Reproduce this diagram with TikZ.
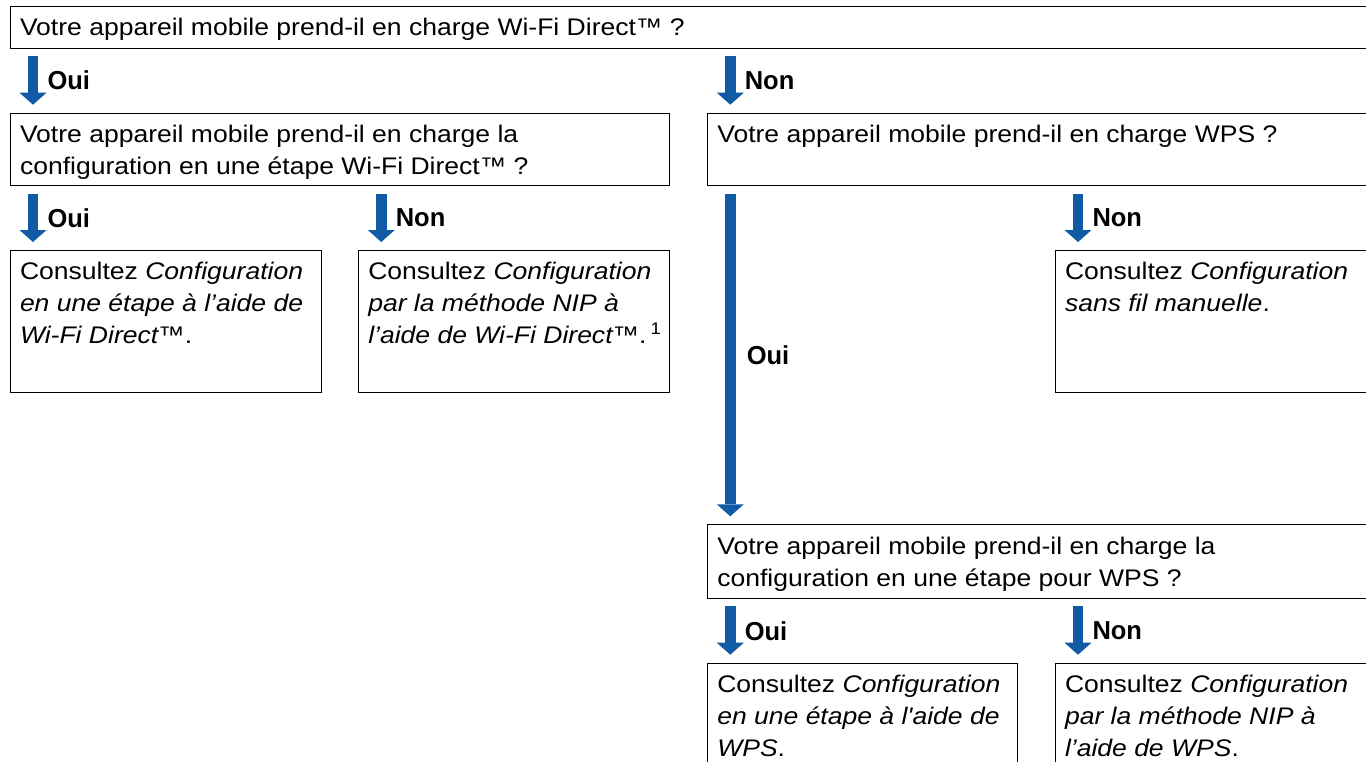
\documentclass[tikz,border=0pt]{standalone}
\usepackage{fontspec}
\setmainfont{Liberation Sans}[FakeStretch=1.105, Ligatures=TeXOff]
\newfontfamily\lblfont{Liberation Sans}[FakeStretch=0.98]
\usetikzlibrary{arrows.meta}
\definecolor{flowblue}{RGB}{17,91,165}
% box text: width, height, lines
\newcommand{\boxtxt}[3]{\parbox[t][#2][t]{#1}{\leftskip=9.5pt\rightskip=-40pt plus 1fil\parindent=0pt\rule{0pt}{29.3pt}#3}}
\tikzset{
  box/.style={draw=black, line width=1pt, anchor=north west, inner sep=0pt, font=\fontsize{24}{32}\selectfont},
  flow/.style={draw=flowblue, line width=10.5pt, -{Triangle[width=27pt,length=12pt,line width=0pt]}, shorten <=7.5pt, shorten >=8pt},
  lbl/.style={midway, anchor=west, xshift=14.5pt, inner sep=0pt, outer sep=0pt, font=\lblfont\fontsize{26}{28}\selectfont\bfseries}
}
\begin{document}
\begin{tikzpicture}[x=1pt,y=-1pt]
\useasboundingbox (0,0) rectangle (1366,761);
% questions
\node[box] (q1) at (10,6) {\boxtxt{1400pt}{41.7pt}{Votre appareil mobile prend-il en charge Wi-Fi Direct™ ?}};
\node[box] (q2) at (10,112.7) {\boxtxt{659.3pt}{72.3pt}{Votre appareil mobile prend-il en charge la\\configuration en une étape Wi-Fi Direct™ ?}};
\node[box] (q3) at (707.3,112.7) {\boxtxt{700pt}{72.3pt}{Votre appareil mobile prend-il en charge WPS ?}};
\node[box] (q4) at (707.3,524.3) {\boxtxt{700pt}{73.4pt}{Votre appareil mobile prend-il en charge la\\configuration en une étape pour WPS ?}};
% answers
\node[box] (a1) at (10,250) {\boxtxt{310.7pt}{141.7pt}{Consultez \textit{Configuration}\\\textit{en une étape à l’aide de}\\\textit{Wi-Fi Direct™}.}};
\node[box] (a2) at (358.3,250) {\boxtxt{311pt}{141.7pt}{Consultez \textit{Configuration}\\\textit{par la méthode NIP à}\\\textit{l’aide de Wi-Fi Direct™}.\,\textsuperscript{1}}};
\node[box] (a3) at (1055,250) {\boxtxt{400pt}{141.7pt}{Consultez \textit{Configuration}\\\textit{sans fil manuelle}.}};
\node[box] (a4) at (707.3,662.7) {\boxtxt{309.4pt}{140pt}{Consultez \textit{Configuration}\\\textit{en une étape à l'aide de}\\\textit{WPS}.}};
\node[box] (a5) at (1055,662.7) {\boxtxt{400pt}{140pt}{Consultez \textit{Configuration}\\\textit{par la méthode NIP à}\\\textit{l’aide de WPS}.}};
% arrows
\draw[flow] ([xshift=23pt]q1.south west) -- node[lbl] {Oui} ([xshift=23pt]q2.north west);
\draw[flow] ([xshift=23pt]q3.north west |- q1.south) -- node[lbl] {Non} ([xshift=23pt]q3.north west);
\draw[flow] ([xshift=23pt]q2.south west) -- node[lbl] {Oui} ([xshift=23pt]a1.north west);
\draw[flow] ([xshift=23pt]a2.north west |- q2.south) -- node[lbl] {Non} ([xshift=23pt]a2.north west);
\draw[flow] ([xshift=23pt]q3.south west) -- node[lbl, xshift=2pt] {Oui} ([xshift=23pt]q4.north west);
\draw[flow] ([xshift=23pt]a3.north west |- q3.south) -- node[lbl] {Non} ([xshift=23pt]a3.north west);
\draw[flow] ([xshift=23pt]q4.south west) -- node[lbl] {Oui} ([xshift=23pt]a4.north west);
\draw[flow] ([xshift=23pt]a5.north west |- q4.south) -- node[lbl] {Non} ([xshift=23pt]a5.north west);
\end{tikzpicture}
\end{document}
